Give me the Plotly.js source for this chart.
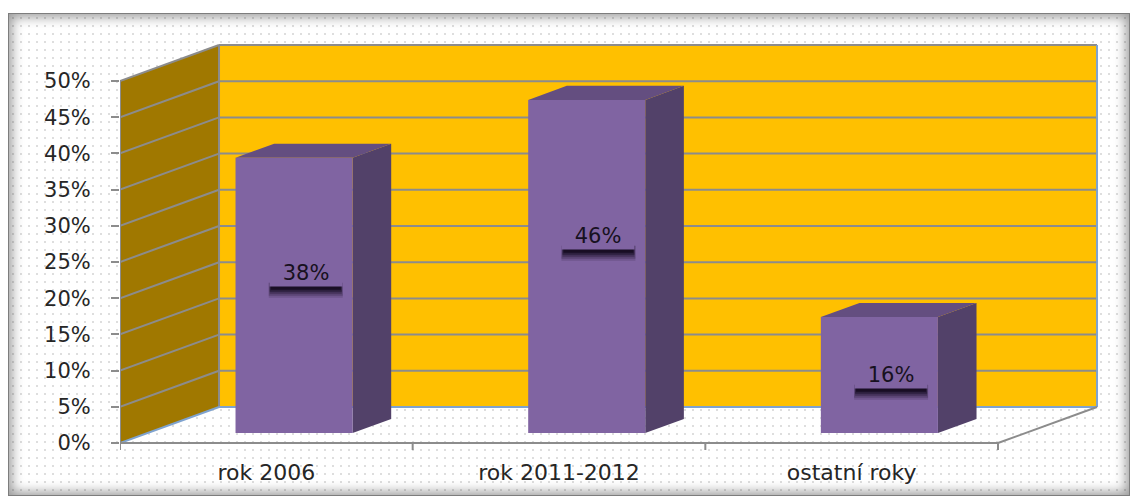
<!DOCTYPE html>
<html>
<head>
<meta charset="utf-8">
<script src="https://cdn.plot.ly/plotly-3.0.1.min.js"></script>
<style>
  html, body { margin: 0; padding: 0; background: #ffffff; }
  body { width: 1132px; height: 498px; position: relative; overflow: hidden; }
  #frame {
    position: absolute; left: 8px; top: 13px; width: 1120px; height: 481px;
    border: 1px solid #7d7d7d;
    background-color: #ffffff;
    background-image: radial-gradient(circle, #dedede 0.8px, rgba(255,255,255,0) 1.1px);
    background-size: 8px 8px;
    box-shadow: inset 0 0 12px 3px rgba(0,0,0,0.4);
  }
  #chart { position: absolute; left: 0; top: 0; width: 1132px; height: 498px; }
</style>
</head>
<body>
<div id="frame"></div>
<div id="chart"></div>
<script>
// Share of respondents by period
const categories = ['rok 2006', 'rok 2011-2012', 'ostatní roky'];
const shares = [38, 46, 16];
const tickValues = [0, 5, 10, 15, 20, 25, 30, 35, 40, 45, 50];
const tickLabels = ['0%', '5%', '10%', '15%', '20%', '25%', '30%', '35%', '40%', '45%', '50%'];

// Oblique projection used for the pseudo-3D look:
// a point (x, value, depth 0..1) is shifted right by DX and up by DY.
const DX = 0.3383;          // depth offset in category units
const DY = 4.972;           // depth offset in percent units
const HALF_W = 0.2;         // half width of a column
const D_FRONT = 0.28;       // column front plane depth
const D_BACK = 0.67;        // column back plane depth
const N = categories.length;
const TOP = tickValues[tickValues.length - 1];

function proj(x, v, d) { return [x + DX * d, v + DY * d]; }

const FONT = 'DejaVu Sans';
const traces = [];

function poly(points, fill, lineColor, lineWidth) {
  const xs = points.map(p => p[0]);
  const ys = points.map(p => p[1]);
  xs.push(xs[0]); ys.push(ys[0]);
  return {
    type: 'scatter', mode: 'lines', x: xs, y: ys, fill: 'toself',
    fillcolor: fill, line: { color: lineColor || fill, width: lineWidth || 0 },
    hoverinfo: 'skip', showlegend: false
  };
}
function segs(list, color, width) {
  const xs = [], ys = [];
  list.forEach(s => { xs.push(s[0][0], s[1][0], null); ys.push(s[0][1], s[1][1], null); });
  return {
    type: 'scatter', mode: 'lines', x: xs, y: ys,
    line: { color: color, width: width }, hoverinfo: 'skip', showlegend: false
  };
}

// Walls
traces.push(poly([proj(0, 0, 0), proj(0, TOP, 0), proj(0, TOP, 1), proj(0, 0, 1)], '#a07800'));
traces.push(poly([proj(0, 0, 1), proj(N, 0, 1), proj(N, TOP, 1), proj(0, TOP, 1)], '#ffc000'));

// Gridlines running along the side wall and across the back wall
const grid = [];
tickValues.forEach(v => {
  if (v === 0) return;
  grid.push([proj(0, v, 0), proj(0, v, 1)]);
  grid.push([proj(0, v, 1), proj(N, v, 1)]);
});
grid.push([proj(0, 0, 1), proj(0, TOP, 1)]);
traces.push(segs(grid, '#8c8c8c', 2));

// Wall edges
traces.push(segs([
  [proj(0, 0, 0), proj(0, 0, 1)],
  [proj(0, 0, 1), proj(N, 0, 1)],
  [proj(N, 0, 1), proj(N, TOP, 1)]
], '#7fa3cf', 2));

// Floor edges
traces.push(segs([
  [proj(0, 0, 0), proj(N, 0, 0)],
  [proj(N, 0, 0), proj(N, 0, 1)]
], '#8c8c8c', 2));

// Columns: side, top and front faces
shares.forEach((v, i) => {
  const c = i + 0.5;
  traces.push(poly([proj(c + HALF_W, 0, D_FRONT), proj(c + HALF_W, v, D_FRONT),
                    proj(c + HALF_W, v, D_BACK), proj(c + HALF_W, 0, D_BACK)], '#524169'));
  traces.push(poly([proj(c - HALF_W, v, D_FRONT), proj(c + HALF_W, v, D_FRONT),
                    proj(c + HALF_W, v, D_BACK), proj(c - HALF_W, v, D_BACK)], '#644e80'));
  traces.push(poly([proj(c - HALF_W, 0, D_FRONT), proj(c + HALF_W, 0, D_FRONT),
                    proj(c + HALF_W, v, D_FRONT), proj(c - HALF_W, v, D_FRONT)], '#8064a2'));
});

// Value labels with a soft drop shadow
const annotations = [];
const shapes = [];
const shadowSteps = [[-37, 37, -25, 0.14], [-37, 37, -23, 0.2], [-36, 36, -21, 0.28],
                     [-36, 36, -19, 0.4], [-35, 35, -17, 0.6]];
shares.forEach((v, i) => {
  const lx = i + 0.5 + DX * D_FRONT + 0.04;
  const ly = 0.64 * v - 0.8;
  shadowSteps.forEach(s => {
    shapes.push({
      type: 'rect', xref: 'x', yref: 'y',
      xsizemode: 'pixel', ysizemode: 'pixel', xanchor: lx, yanchor: ly,
      x0: s[0], x1: s[1], y0: s[2], y1: -10,
      fillcolor: 'rgba(12,4,20,' + s[3] + ')', line: { width: 0 }
    });
  });
  annotations.push({
    x: lx, y: ly, xref: 'x', yref: 'y', showarrow: false,
    text: v + '%', width: 72, height: 27,
    bgcolor: '#8064a2', borderpad: 0,
    font: { family: FONT, size: 21, color: '#171120' }
  });
});

// Axis line and category boundary ticks
shapes.push({ type: 'line', xref: 'x', yref: 'y', x0: 0, x1: 0, y0: 0, y1: TOP,
              line: { color: '#8c8c8c', width: 2 } });
for (let k = 0; k <= N; k++) {
  shapes.push({ type: 'line', xref: 'x', yref: 'y', ysizemode: 'pixel', yanchor: 0,
                x0: k, x1: k, y0: 0, y1: -7, line: { color: '#8c8c8c', width: 2 } });
}

const layout = {
  width: 1132, height: 498,
  margin: { l: 120, r: 22, t: 30, b: 43, pad: 0 },
  paper_bgcolor: 'rgba(0,0,0,0)', plot_bgcolor: 'rgba(0,0,0,0)',
  showlegend: false,
  xaxis: {
    range: [0, 3.3827], tickvals: categories.map((c, i) => i + 0.5), ticktext: categories,
    ticks: '', showgrid: false, zeroline: false, showline: false, fixedrange: true,
    ticklabelstandoff: 2,
    tickfont: { family: FONT, size: 22, color: '#262626' }
  },
  yaxis: {
    range: [-1.657, 57.044], tickvals: tickValues, ticktext: tickLabels,
    ticks: 'outside', ticklen: 8, tickwidth: 2, tickcolor: '#8c8c8c',
    showgrid: false, zeroline: false, showline: false, fixedrange: true,
    ticklabelstandoff: 16,
    tickfont: { family: FONT, size: 21, color: '#262626' }
  },
  shapes: shapes,
  annotations: annotations
};

Plotly.newPlot('chart', traces, layout, { displayModeBar: false, staticPlot: true });
</script>
</body>
</html>
